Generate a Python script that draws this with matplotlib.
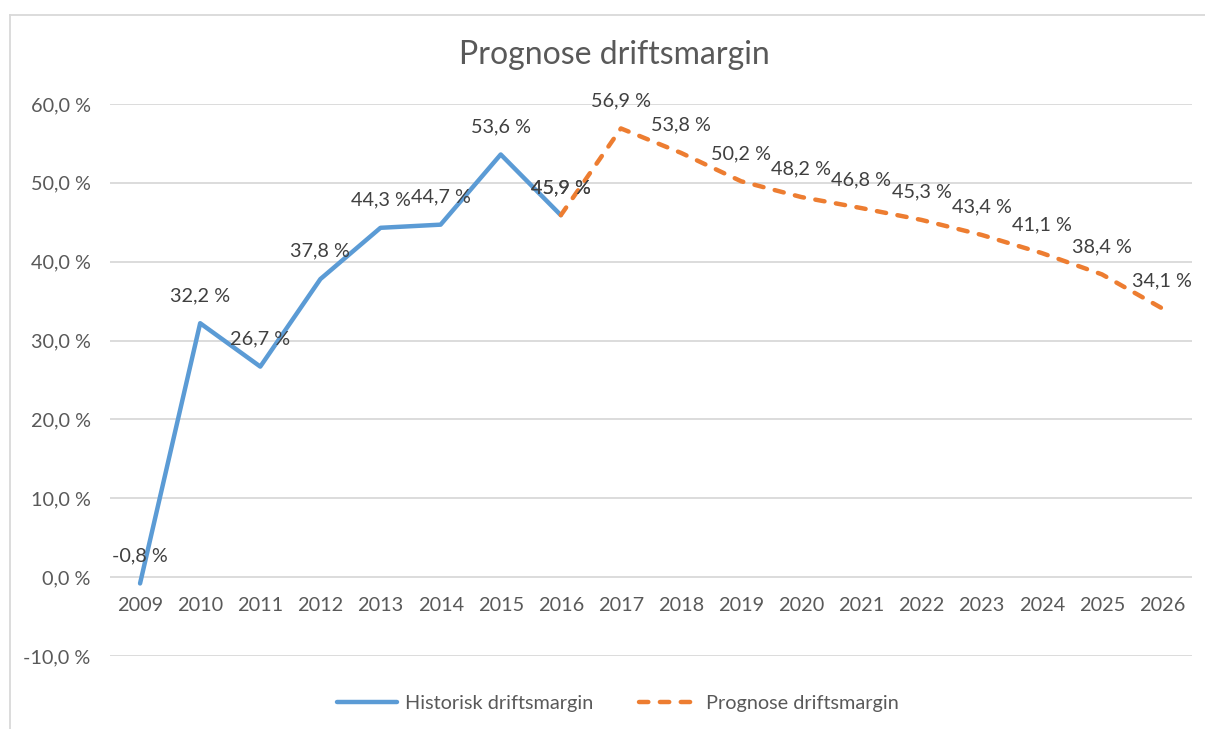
import matplotlib.pyplot as plt
from matplotlib.lines import Line2D

# data
years = [str(y) for y in range(2009, 2027)]
hist_years = years[:8]
hist_vals = [-0.8, 32.2, 26.7, 37.8, 44.3, 44.7, 53.6, 45.9]
prog_years = years[7:]
prog_vals = [45.9, 56.9, 53.8, 50.2, 48.2, 46.8, 45.3, 43.4, 41.1, 38.4, 34.1]
yticks = [-10, 0, 10, 20, 30, 40, 50, 60]

blue = "#5b9bd5"
orange = "#ed7d31"
grid_c = "#d9d9d9"
txt_c = "#595959"
lbl_c = "#404040"
fs = 14.3

plt.rcParams['font.family'] = ['Lato', 'DejaVu Sans']

fig = plt.figure(figsize=(12.05, 7.29), dpi=100)
ax = fig.add_axes([110 / 1205, 1 - 656 / 729, (1192 - 110) / 1205, (656 - 104) / 729])

idx = {y: i for i, y in enumerate(years)}
hx = [idx[y] for y in hist_years]
px = [idx[y] for y in prog_years]

ax.plot(hx, hist_vals, color=blue, lw=3.2, solid_capstyle='round', solid_joinstyle='round', zorder=3)
ax.plot(px, prog_vals, color=orange, lw=3.2, dashes=(2.1, 2.6), dash_capstyle='round', zorder=3)

for x, v in list(zip(hx, hist_vals)) + list(zip(px, prog_vals)):
    ax.annotate(f"{v:.1f} %".replace(".", ","), (x, v), xytext=(0, 20), textcoords='offset points',
                ha='center', va='center', fontsize=fs, color=lbl_c, zorder=4)

ax.set_xlim(-0.5, len(years) - 0.5)
ax.set_ylim(-10, 60)
ax.set_yticks(yticks)
ax.set_yticklabels([f"{t:.1f} %".replace(".", ",") for t in yticks])
ax.set_xticks(range(len(years)))
ax.set_xticklabels(years)
ax.grid(axis='y', color=grid_c, lw=1.3, zorder=0)
ax.set_axisbelow(True)
for s in ax.spines.values():
    s.set_visible(False)
ax.spines['bottom'].set_position(('data', 0))
ax.tick_params(axis='both', length=0, labelsize=fs, labelcolor=txt_c)
ax.tick_params(axis='y', pad=14)
ax.tick_params(axis='x', pad=14)

fig.text(614 / 1205, 1 - 55 / 729, "Prognose driftsmargin", ha='center', va='center',
         fontsize=23, color=txt_c)

handles = [Line2D([], [], color=blue, lw=3.2, solid_capstyle='round'),
           Line2D([], [], color=orange, lw=3.2, dashes=(2.1, 2.6), dash_capstyle='round')]
fig.legend(handles, ["Historisk driftsmargin", "Prognose driftsmargin"], loc='center',
           bbox_to_anchor=(618 / 1205, 1 - 703 / 729), ncol=2, frameon=False, fontsize=fs,
           labelcolor=txt_c, handlelength=3.0, columnspacing=2.3, handletextpad=0.4)

# chart border
fig.add_artist(Line2D([10 / 1205, 1], [1 - 15 / 729] * 2, color=grid_c, lw=1.3, transform=fig.transFigure))
fig.add_artist(Line2D([10 / 1205] * 2, [0, 1 - 15 / 729], color=grid_c, lw=1.3, transform=fig.transFigure))

fig.savefig("out.png", dpi=100)
